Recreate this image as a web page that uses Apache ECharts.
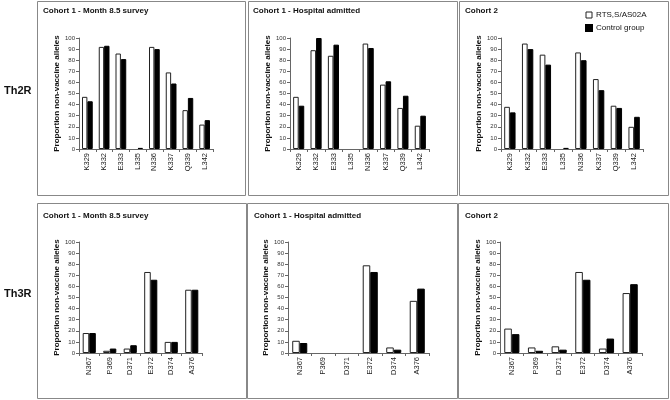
<!DOCTYPE html>
<html>
<head>
<meta charset="utf-8">
<script src="https://cdn.jsdelivr.net/npm/echarts@6/dist/echarts.min.js"></script>
<style>
html,body{margin:0;padding:0;background:#fff;}
#c{width:670px;height:400px;}
</style>
</head>
<body>
<div id="c"></div>
<script>
// ---- Data ----
var th2rCategories = ['K329','K332','E333','L335','N336','K337','Q339','L342'];
var th3rCategories = ['N367','P369','D371','E372','D374','A376'];
var panelTitles = ['Cohort 1 - Month 8.5 survey','Cohort 1 - Hospital admitted','Cohort 2'];
var seriesNames = ['RTS,S/AS02A','Control group'];
var yTicks = [0,10,20,30,40,50,60,70,80,90,100];

var th2rMonthRts     = [47, 92, 86, 0, 92, 69, 35, 22];
var th2rMonthCtrl    = [43, 93, 81, 1, 90, 59, 46, 26];
var th2rHospRts      = [47, 89, 84, 0, 95, 58, 37, 21];
var th2rHospCtrl     = [39, 100, 94, 0, 91, 61, 48, 30];
var th2rCohort2Rts   = [38, 95, 85, 0, 87, 63, 39, 20];
var th2rCohort2Ctrl  = [33, 90, 76, 1, 80, 53, 37, 29];

var th3rMonthRts     = [18, 2, 4, 73, 10, 57];
var th3rMonthCtrl    = [18, 4, 7, 66, 10, 57];
var th3rHospRts      = [11, 0, 0, 79, 5, 47];
var th3rHospCtrl     = [9, 0, 0, 73, 3, 58];
var th3rCohort2Rts   = [22, 5, 6, 73, 4, 54];
var th3rCohort2Ctrl  = [17, 2, 3, 66, 13, 62];

// ---- Layout ----
var FONT = 'Liberation Sans, Arial, sans-serif';
var panels = [
  {cats: th2rCategories, rts: th2rMonthRts, ctrl: th2rMonthCtrl, title: panelTitles[0], grid:{left:79, top:38, width:134, height:111}, box:[37,1,208,194], tpos:[43,7]},
  {cats: th2rCategories, rts: th2rHospRts, ctrl: th2rHospCtrl, title: panelTitles[1], grid:{left:290, top:38, width:139, height:111}, box:[248,1,209,194], tpos:[253,7]},
  {cats: th2rCategories, rts: th2rCohort2Rts, ctrl: th2rCohort2Ctrl, title: panelTitles[2], grid:{left:501, top:38, width:142, height:111}, box:[459,1,209,194], tpos:[465,7]},
  {cats: th3rCategories, rts: th3rMonthRts, ctrl: th3rMonthCtrl, title: panelTitles[0], grid:{left:79, top:242, width:123, height:111}, box:[37,203,209,195], tpos:[43,212]},
  {cats: th3rCategories, rts: th3rHospRts, ctrl: th3rHospCtrl, title: panelTitles[1], grid:{left:288, top:242, width:141, height:111}, box:[247,203,210,195], tpos:[254,212]},
  {cats: th3rCategories, rts: th3rCohort2Rts, ctrl: th3rCohort2Ctrl, title: panelTitles[2], grid:{left:500, top:242, width:142, height:111}, box:[458,203,210,195], tpos:[465,212]}
];

function barData(values){
  return values.map(function(v){
    return v === 0 ? {value:v, itemStyle:{borderWidth:0, opacity:0}} : v;
  });
}

var grids=[], xAxes=[], yAxes=[], series=[], titles=[], graphics=[];
panels.forEach(function(p,i){
  grids.push(p.grid);
  xAxes.push({
    type:'category', gridIndex:i, data:p.cats,
    axisLine:{lineStyle:{color:'#666',width:1}},
    axisTick:{show:true, length:3, lineStyle:{color:'#666'}},
    axisLabel:{rotate:90, fontSize:7.5, color:'#222', fontFamily:FONT, margin:4, interval:0}
  });
  yAxes.push({
    type:'value', gridIndex:i, min:0, max:100, interval:10,
    name:'Proportion non-vaccine alleles', nameLocation:'middle', nameGap:17,
    nameTextStyle:{fontSize:8, fontWeight:'bold', color:'#111', fontFamily:FONT},
    axisLine:{show:true, lineStyle:{color:'#666',width:1}},
    axisTick:{show:true, length:3, lineStyle:{color:'#666'}},
    axisLabel:{fontSize:6, color:'#333', fontFamily:FONT, margin:4},
    splitLine:{show:false}
  });
  series.push({
    type:'bar', name:seriesNames[0], xAxisIndex:i, yAxisIndex:i, data:barData(p.rts),
    barGap:'0%', barCategoryGap:'36%',
    itemStyle:{color:'#fff', borderColor:'#222', borderWidth:1}
  });
  series.push({
    type:'bar', name:seriesNames[1], xAxisIndex:i, yAxisIndex:i, data:barData(p.ctrl),
    barGap:'0%', barCategoryGap:'36%',
    itemStyle:{color:'#000', borderColor:'#000', borderWidth:1}
  });
  titles.push({
    text:p.title, left:p.tpos[0], top:p.tpos[1], padding:0,
    textStyle:{fontSize:8, fontWeight:'bold', color:'#111', fontFamily:FONT}
  });
  graphics.push({
    type:'rect', shape:{x:p.box[0]+0.5, y:p.box[1]+0.5, width:p.box[2], height:p.box[3]},
    style:{fill:null, stroke:'#888', lineWidth:1}, silent:true, z:-1
  });
});
titles.push({text:'Th2R', left:4, top:85, padding:0, textStyle:{fontSize:11, fontWeight:'bold', color:'#111', fontFamily:FONT}});
titles.push({text:'Th3R', left:4, top:288, padding:0, textStyle:{fontSize:11, fontWeight:'bold', color:'#111', fontFamily:FONT}});

var chart = echarts.init(document.getElementById('c'), null, {renderer:'canvas'});
chart.setOption({
  animation:false,
  backgroundColor:'#fff',
  title:titles,
  legend:{
    data:[
      {name:seriesNames[0], itemStyle:{color:'#fff', borderColor:'#222', borderWidth:1}},
      {name:seriesNames[1], itemStyle:{color:'#000'}}
    ],
    orient:'vertical', left:585, top:11, padding:0,
    icon:'rect', itemWidth:6, itemHeight:6, itemGap:5,
    textStyle:{fontSize:8, color:'#111', fontFamily:FONT, padding:[0,0,0,-1]},
    selectedMode:false
  },
  grid:grids, xAxis:xAxes, yAxis:yAxes, series:series,
  graphic:graphics
});
</script>
</body>
</html>
